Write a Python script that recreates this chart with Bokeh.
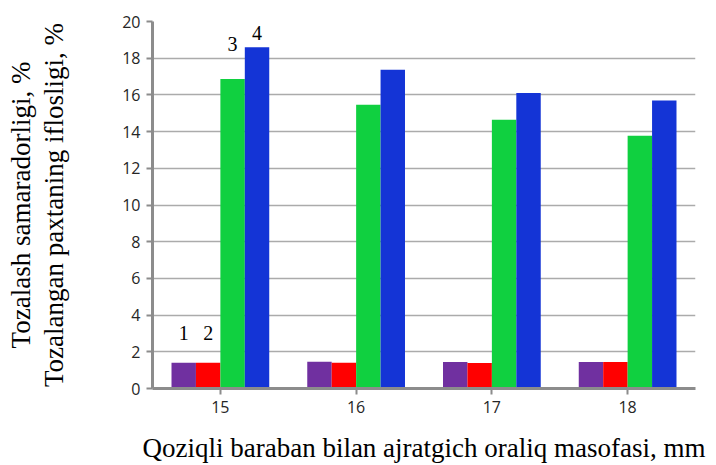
from bokeh.plotting import figure
from bokeh.models import ColumnDataSource, FactorRange, SingleIntervalTicker
from bokeh.transform import dodge
from bokeh.embed import file_html
from bokeh.resources import INLINE
from bokeh.core.properties import value

categories = ["15", "16", "17", "18"]
series1 = [1.40, 1.46, 1.44, 1.44]   # purple
series2 = [1.40, 1.40, 1.39, 1.44]   # red
series3 = [16.86, 15.46, 14.65, 13.78]  # green
series4 = [18.60, 17.37, 16.10, 15.70]  # blue
colors = ["#7030A0", "#FF0000", "#10D040", "#1434D6"]
offsets = [-0.27, -0.09, 0.09, 0.27]
num_labels = ["1", "2", "3", "4"]
num_label_y = [3.0, 3.0, 18.8, 19.4]

src = ColumnDataSource(dict(cat=categories, s1=series1, s2=series2, s3=series3, s4=series4))

p = figure(x_range=FactorRange(*categories), y_range=(0, 20), width=716, height=465,
           output_backend="svg", toolbar_location=None,
           min_border_left=152, min_border_right=21, min_border_top=21, min_border_bottom=76)
p.outline_line_color = None
p.background_fill_color = "white"

for key, c, off in zip(["s1", "s2", "s3", "s4"], colors, offsets):
    p.vbar(x=dodge("cat", off, range=p.x_range), top=key, width=0.18, source=src,
           fill_color=c, line_color=None)

for t, off, yv in zip(num_labels, offsets, num_label_y):
    s = ColumnDataSource(dict(cat=[categories[0]], y=[yv], t=[t]))
    p.text(x=dodge("cat", off, range=p.x_range), y="y", text="t", source=s,
           text_align="center", text_baseline="middle",
           text_font=value("Liberation Serif"), text_font_size="20px", text_color="black")

p.yaxis.ticker = SingleIntervalTicker(interval=2)
p.ygrid.grid_line_color = "#ababab"
p.ygrid.grid_line_width = 1.5
p.xgrid.grid_line_color = None

for ax in (p.xaxis, p.yaxis):
    ax.axis_line_color = "#8c8c8c"
    ax.axis_line_width = 3
    ax.major_tick_line_color = "#8c8c8c"
    ax.major_tick_line_width = 2
    ax.major_tick_in = 0
    ax.major_tick_out = 6
    ax.minor_tick_line_color = None
    ax.major_label_text_font = "Open Sans"
    ax.major_label_text_font_size = "16px"
    ax.major_label_text_color = "#262626"
    ax.axis_label_text_font = "Liberation Serif"
    ax.axis_label_text_font_size = "27px"
    ax.axis_label_text_font_style = "normal"
    ax.axis_label_text_color = "black"

p.yaxis.axis_label = "Tozalash samaradorligi, %\nTozalangan paxtaning iflosligi, %"
p.xaxis.axis_label = "Qoziqli baraban bilan ajratgich oraliq masofasi, mm"
p.yaxis.axis_label_text_line_height = 1.1
p.xaxis.axis_label_text_line_height = 1.0
p.yaxis.major_label_standoff = 6
p.yaxis.axis_label_standoff = 50
p.xaxis.major_label_standoff = 6
p.xaxis.axis_label_standoff = 17

open("out.html", "w").write(file_html(p, INLINE))
